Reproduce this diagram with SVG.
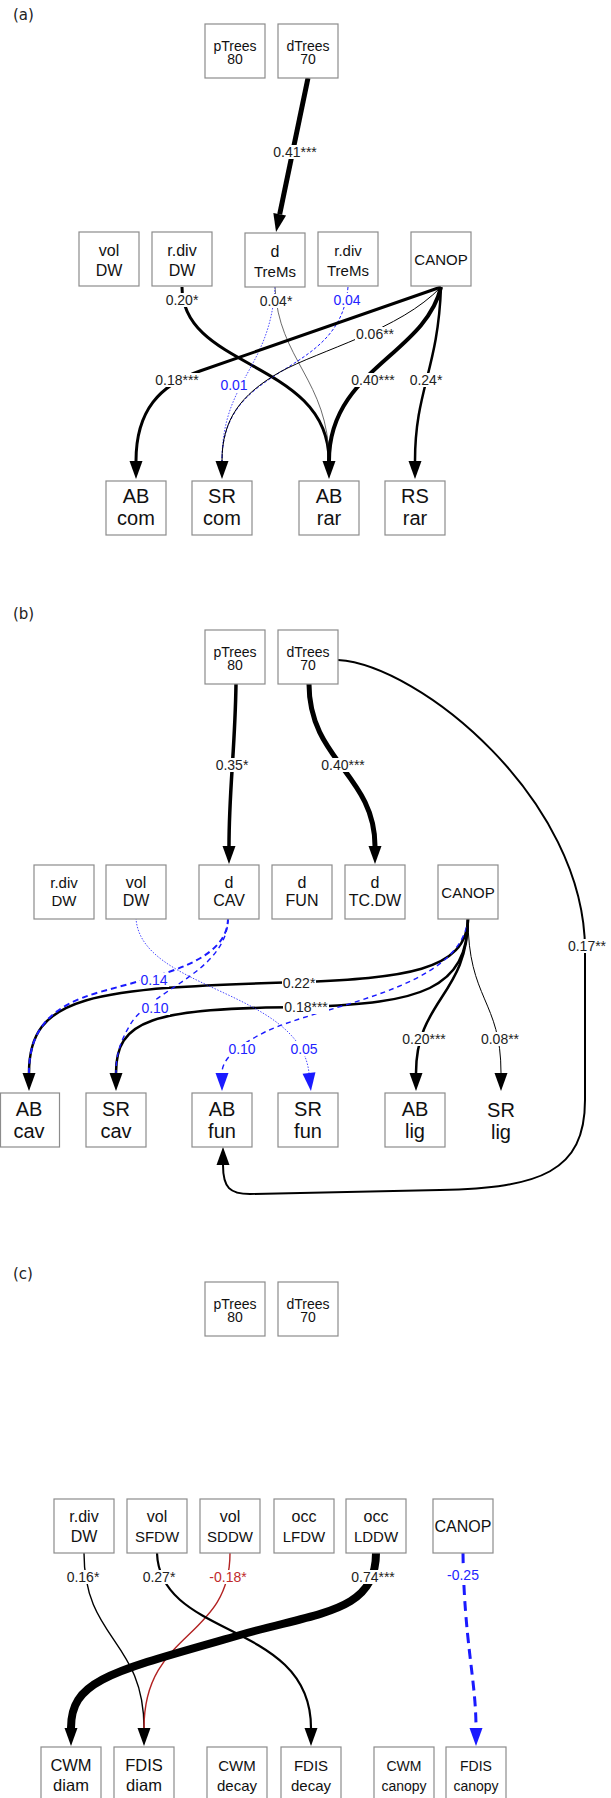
<svg xmlns="http://www.w3.org/2000/svg" width="611" height="1798" viewBox="0 0 611 1798">
<style>
.bx{fill:#fff;stroke:#8c8c8c;stroke-width:1.2}
text{font-family:"Liberation Sans",Arial,sans-serif;text-anchor:middle;fill:#111}
.t14{font-size:14px}
.r16{font-size:16px}
.r15{font-size:15px}
.r14{font-size:14px}
.b20{font-size:20px}
.c16{font-size:16.5px}
.lb{font-size:14px;fill:#222}
.lbb{font-size:14px;fill:#2323ff}
.lbr{font-size:14px;fill:#c0292b}
.bg{fill:#fff}
.e{fill:none;stroke:#000}
.eb{fill:none;stroke:#1a1aff}
.er{fill:none;stroke:#b22222}
.pl{font-family:"DejaVu Sans",sans-serif;font-size:15px;text-anchor:start;fill:#222}
</style>
<defs>
<marker id="ah" markerUnits="userSpaceOnUse" markerWidth="19" markerHeight="14" refX="0" refY="7" orient="auto" overflow="visible"><path d="M0,0.5 L18,7 L0,13.5 z" fill="#000"/></marker>
<marker id="ahb" markerUnits="userSpaceOnUse" markerWidth="19" markerHeight="14" refX="0" refY="7" orient="auto" overflow="visible"><path d="M0,0.5 L18,7 L0,13.5 z" fill="#1a1aff"/></marker>
</defs>
<rect width="611" height="1798" fill="#fff"/>

<g id="panel-labels">
<text class="pl" x="13" y="20">(a)</text>
<text class="pl" x="13" y="619">(b)</text>
<text class="pl" x="13" y="1279">(c)</text>
</g>

<g id="connectors">
<!-- panel a -->
<path class="e" stroke-width="5" d="M308,78 L279.7,214.3" marker-end="url(#ah)"/>
<path class="e" stroke-width="3" d="M182,287 C182,370 329,360 329,461"/>
<path class="e" stroke-width="0.8" style="stroke:#444" d="M275,287 C278,360 329,380 329,461"/>
<path class="eb" stroke-width="0.8" stroke-dasharray="1.5,1.5" d="M275,287 C270,370 222,380 222,461"/>
<path class="eb" stroke-width="1" stroke-dasharray="3,2" d="M348,287 C340,380 222,360 222,461"/>
<path class="e" stroke-width="3" d="M441,287 L200,371 C160,385 136,410 136,461" marker-end="url(#ah)"/>
<path class="e" stroke-width="1" d="M441,287 C400,330 320,350 280,372 C240,395 222,420 222,461" marker-end="url(#ah)"/>
<path class="e" stroke-width="4" d="M441,287 C425,355 329,370 329,461" marker-end="url(#ah)"/>
<path class="e" stroke-width="2.5" d="M441,287 C438,370 415,390 415,461" marker-end="url(#ah)"/>
<!-- panel b -->
<path class="e" stroke-width="3.5" d="M236,684 C235,750 229,790 229,846" marker-end="url(#ah)"/>
<path class="e" stroke-width="5" d="M309,684 C309,760 375,775 375,846" marker-end="url(#ah)"/>
<path class="e" stroke-width="2" d="M338,660 C420,665 585,800 585,950 L585,1100 C585,1172 540,1188 440,1190 L250,1194 C230,1194 223,1188 223,1165" marker-end="url(#ah)"/>
<path class="e" stroke-width="2.5" d="M468,918 C468,972 400,978 300,982 C90,988 29,995 29,1073" marker-end="url(#ah)"/>
<path class="e" stroke-width="2.5" d="M468,918 C468,990 420,1003 306,1007 C150,1008 116,1020 116,1073" marker-end="url(#ah)"/>
<path class="eb" stroke-width="2" stroke-dasharray="6,4" d="M228,918 C228,962 160,975 100,992 C50,1006 29,1030 29,1073"/>
<path class="eb" stroke-width="1.4" stroke-dasharray="5,4" d="M228,918 C228,972 150,990 130,1025 C120,1042 116,1055 116,1073"/>
<path class="eb" stroke-width="1.4" stroke-dasharray="5,4" d="M468,918 C462,990 320,1005 265,1032 C235,1047 222,1060 222,1073" marker-end="url(#ahb)"/>
<path class="eb" stroke-width="0.8" stroke-dasharray="1.5,1.5" d="M136,918 C140,990 300,990 309,1073" marker-end="url(#ahb)"/>
<path class="e" stroke-width="2.5" d="M468,918 C468,995 416,1000 416,1073" marker-end="url(#ah)"/>
<path class="e" stroke-width="1" d="M468,918 C468,1000 501,1000 501,1073" marker-end="url(#ah)"/>
<!-- panel c -->
<path class="e" stroke-width="1.4" d="M84,1553 C84,1640 144,1640 144,1728" marker-end="url(#ah)"/>
<path class="er" stroke-width="1.4" d="M230,1553 C230,1640 144,1630 144,1728"/>
<path class="e" stroke-width="2.2" d="M157,1553 C160,1640 311,1620 311,1728" marker-end="url(#ah)"/>
<path class="e" stroke-width="8" d="M376,1553 C376,1612 320,1612 240,1635 C110,1672 71,1680 71,1728" marker-end="url(#ah)"/>
<path class="eb" stroke-width="3" stroke-dasharray="10,6" d="M463,1553 C464,1640 476,1680 476,1728" marker-end="url(#ahb)"/>
</g>

<g id="edge-labels">
<rect class="bg" x="272" y="145" width="46" height="14"/><text class="lb" x="295" y="157">0.41***</text>
<rect class="bg" x="165" y="293" width="34" height="14"/><text class="lb" x="182" y="305">0.20*</text>
<rect class="bg" x="259" y="294" width="34" height="14"/><text class="lb" x="276" y="306">0.04*</text>
<rect class="bg" x="333" y="293" width="29" height="14"/><text class="lbb" x="347" y="305">0.04</text>
<rect class="bg" x="355" y="327" width="40" height="14"/><text class="lb" x="375" y="339">0.06**</text>
<rect class="bg" x="154" y="373" width="46" height="14"/><text class="lb" x="177" y="385">0.18***</text>
<rect class="bg" x="220" y="378" width="28" height="14"/><text class="lbb" x="234" y="390">0.01</text>
<rect class="bg" x="350" y="373" width="46" height="14"/><text class="lb" x="373" y="385">0.40***</text>
<rect class="bg" x="409" y="373" width="34" height="14"/><text class="lb" x="426" y="385">0.24*</text>

<rect class="bg" x="215" y="758" width="34" height="14"/><text class="lb" x="232" y="770">0.35*</text>
<rect class="bg" x="320" y="758" width="46" height="14"/><text class="lb" x="343" y="770">0.40***</text>
<rect class="bg" x="567" y="939" width="40" height="14"/><text class="lb" x="587" y="951">0.17**</text>
<rect class="bg" x="140" y="973" width="29" height="14"/><text class="lbb" x="154" y="985">0.14</text>
<rect class="bg" x="282" y="976" width="34" height="14"/><text class="lb" x="299" y="988">0.22*</text>
<rect class="bg" x="141" y="1001" width="29" height="14"/><text class="lbb" x="155" y="1013">0.10</text>
<rect class="bg" x="283" y="1000" width="46" height="14"/><text class="lb" x="306" y="1012">0.18***</text>
<rect class="bg" x="401" y="1032" width="46" height="14"/><text class="lb" x="424" y="1044">0.20***</text>
<rect class="bg" x="480" y="1032" width="40" height="14"/><text class="lb" x="500" y="1044">0.08**</text>
<rect class="bg" x="228" y="1042" width="29" height="14"/><text class="lbb" x="242" y="1054">0.10</text>
<rect class="bg" x="290" y="1042" width="29" height="14"/><text class="lbb" x="304" y="1054">0.05</text>

<rect class="bg" x="66" y="1570" width="34" height="14"/><text class="lb" x="83" y="1582">0.16*</text>
<rect class="bg" x="142" y="1570" width="34" height="14"/><text class="lb" x="159" y="1582">0.27*</text>
<rect class="bg" x="209" y="1570" width="39" height="14"/><text class="lbr" x="228" y="1582">-0.18*</text>
<rect class="bg" x="350" y="1570" width="46" height="14"/><text class="lb" x="373" y="1582">0.74***</text>
<rect class="bg" x="446" y="1568" width="34" height="14"/><text class="lbb" x="463" y="1580">-0.25</text>
</g>

<!-- panel a nodes -->
<g id="a-pTrees"><rect class="bx" x="205" y="24" width="60" height="54"/><text class="t14" x="235" y="51">pTrees</text><text class="t14" x="235" y="64">80</text></g>
<g id="a-dTrees"><rect class="bx" x="278" y="24" width="60" height="54"/><text class="t14" x="308" y="51">dTrees</text><text class="t14" x="308" y="64">70</text></g>
<g id="a-volDW"><rect class="bx" x="79" y="232" width="60" height="54"/><text class="r16" x="109" y="256">vol</text><text class="r16" x="109" y="276">DW</text></g>
<g id="a-rdivDW"><rect class="bx" x="152" y="232" width="60" height="54"/><text class="r16" x="182" y="256">r.div</text><text class="r16" x="182" y="276">DW</text></g>
<g id="a-dTreMs"><rect class="bx" x="245" y="233" width="60" height="54"/><text class="r16" x="275" y="257">d</text><text class="r15" x="275" y="277">TreMs</text></g>
<g id="a-rdivTreMs"><rect class="bx" x="318" y="232" width="60" height="54"/><text class="r15" x="348" y="256">r.div</text><text class="r15" x="348" y="276">TreMs</text></g>
<g id="a-CANOP"><rect class="bx" x="411" y="232" width="60" height="54"/><text class="r15" x="441" y="265">CANOP</text></g>
<g id="a-ABcom"><rect class="bx" x="106" y="481" width="60" height="54"/><text class="b20" x="136" y="503">AB</text><text class="b20" x="136" y="525">com</text></g>
<g id="a-SRcom"><rect class="bx" x="192" y="481" width="60" height="54"/><text class="b20" x="222" y="503">SR</text><text class="b20" x="222" y="525">com</text></g>
<g id="a-ABrar"><rect class="bx" x="299" y="481" width="60" height="54"/><text class="b20" x="329" y="503">AB</text><text class="b20" x="329" y="525">rar</text></g>
<g id="a-RSrar"><rect class="bx" x="385" y="481" width="60" height="54"/><text class="b20" x="415" y="503">RS</text><text class="b20" x="415" y="525">rar</text></g>

<!-- panel b nodes -->
<g id="b-pTrees"><rect class="bx" x="205" y="630" width="60" height="54"/><text class="t14" x="235" y="657">pTrees</text><text class="t14" x="235" y="670">80</text></g>
<g id="b-dTrees"><rect class="bx" x="278" y="630" width="60" height="54"/><text class="t14" x="308" y="657">dTrees</text><text class="t14" x="308" y="670">70</text></g>
<g id="b-rdivDW"><rect class="bx" x="34" y="865" width="60" height="54"/><text class="r15" x="64" y="888">r.div</text><text class="r15" x="64" y="906">DW</text></g>
<g id="b-volDW"><rect class="bx" x="106" y="865" width="60" height="54"/><text class="r16" x="136" y="888">vol</text><text class="r16" x="136" y="906">DW</text></g>
<g id="b-dCAV"><rect class="bx" x="199" y="865" width="60" height="54"/><text class="r16" x="229" y="888">d</text><text class="r16" x="229" y="906">CAV</text></g>
<g id="b-dFUN"><rect class="bx" x="272" y="865" width="60" height="54"/><text class="r16" x="302" y="888">d</text><text class="r16" x="302" y="906">FUN</text></g>
<g id="b-dTCDW"><rect class="bx" x="345" y="865" width="60" height="54"/><text class="r16" x="375" y="888">d</text><text class="r16" x="375" y="906">TC.DW</text></g>
<g id="b-CANOP"><rect class="bx" x="438" y="865" width="60" height="54"/><text class="r15" x="468" y="898">CANOP</text></g>
<g id="b-ABcav"><rect class="bx" x="0.5" y="1093" width="59" height="54"/><text class="b20" x="29" y="1116">AB</text><text class="b20" x="29" y="1138">cav</text></g>
<g id="b-SRcav"><rect class="bx" x="86" y="1093" width="60" height="54"/><text class="b20" x="116" y="1116">SR</text><text class="b20" x="116" y="1138">cav</text></g>
<g id="b-ABfun"><rect class="bx" x="192" y="1093" width="60" height="54"/><text class="b20" x="222" y="1116">AB</text><text class="b20" x="222" y="1138">fun</text></g>
<g id="b-SRfun"><rect class="bx" x="278" y="1093" width="60" height="54"/><text class="b20" x="308" y="1116">SR</text><text class="b20" x="308" y="1138">fun</text></g>
<g id="b-ABlig"><rect class="bx" x="385" y="1093" width="60" height="54"/><text class="b20" x="415" y="1116">AB</text><text class="b20" x="415" y="1138">lig</text></g>
<g id="b-SRlig"><text class="b20" x="501" y="1117">SR</text><text class="b20" x="501" y="1139">lig</text></g>

<!-- panel c nodes -->
<g id="c-pTrees"><rect class="bx" x="205" y="1282" width="60" height="54"/><text class="t14" x="235" y="1309">pTrees</text><text class="t14" x="235" y="1322">80</text></g>
<g id="c-dTrees"><rect class="bx" x="278" y="1282" width="60" height="54"/><text class="t14" x="308" y="1309">dTrees</text><text class="t14" x="308" y="1322">70</text></g>
<g id="c-rdivDW"><rect class="bx" x="54" y="1499" width="60" height="54"/><text class="r16" x="84" y="1522">r.div</text><text class="r16" x="84" y="1542">DW</text></g>
<g id="c-volSFDW"><rect class="bx" x="127" y="1499" width="60" height="54"/><text class="r16" x="157" y="1522">vol</text><text class="r15" x="157" y="1542">SFDW</text></g>
<g id="c-volSDDW"><rect class="bx" x="200" y="1499" width="60" height="54"/><text class="r16" x="230" y="1522">vol</text><text class="r15" x="230" y="1542">SDDW</text></g>
<g id="c-occLFDW"><rect class="bx" x="274" y="1499" width="60" height="54"/><text class="r16" x="304" y="1522">occ</text><text class="r15" x="304" y="1542">LFDW</text></g>
<g id="c-occLDDW"><rect class="bx" x="346" y="1499" width="60" height="54"/><text class="r16" x="376" y="1522">occ</text><text class="r15" x="376" y="1542">LDDW</text></g>
<g id="c-CANOP"><rect class="bx" x="433" y="1499" width="60" height="54"/><text class="r16" x="463" y="1532">CANOP</text></g>
<g id="c-CWMdiam"><rect class="bx" x="41" y="1747" width="60" height="54"/><text class="c16" x="71" y="1771">CWM</text><text class="c16" x="71" y="1791">diam</text></g>
<g id="c-FDISdiam"><rect class="bx" x="114" y="1747" width="60" height="54"/><text class="c16" x="144" y="1771">FDIS</text><text class="c16" x="144" y="1791">diam</text></g>
<g id="c-CWMdecay"><rect class="bx" x="207" y="1747" width="60" height="54"/><text class="r15" x="237" y="1771">CWM</text><text class="r15" x="237" y="1791">decay</text></g>
<g id="c-FDISdecay"><rect class="bx" x="281" y="1747" width="60" height="54"/><text class="r15" x="311" y="1771">FDIS</text><text class="r15" x="311" y="1791">decay</text></g>
<g id="c-CWMcanopy"><rect class="bx" x="374" y="1747" width="60" height="54"/><text class="r14" x="404" y="1771">CWM</text><text class="r14" x="404" y="1791">canopy</text></g>
<g id="c-FDIScanopy"><rect class="bx" x="446" y="1747" width="60" height="54"/><text class="r14" x="476" y="1771">FDIS</text><text class="r14" x="476" y="1791">canopy</text></g>
</svg>
